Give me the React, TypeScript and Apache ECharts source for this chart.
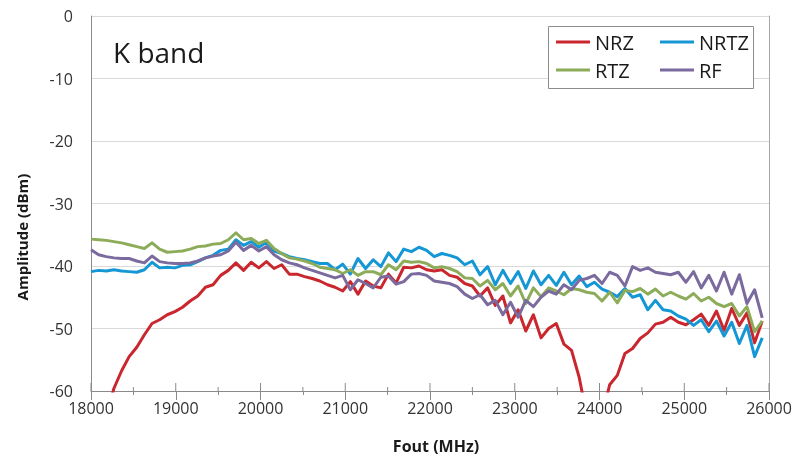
import React, { useEffect, useRef } from "react";
import * as echarts from "echarts";

// Frequency grid (MHz): first sample and spacing
const FREQ_START = 18000;
const FREQ_STEP = 90;

const X_TICKS = { min: 18000, max: 26000, interval: 1000 };
const Y_TICKS = { min: -60, max: 0, interval: 10 };

const SERIES_NAMES = ["NRZ", "NRTZ", "RTZ", "RF"];

// NRZ (dBm)
const nrz: (number | null)[] = [
  null, null, -64, -59.6, -56.8, -54.5, -53.0, -51.0, -49.2, -48.6,
  -47.8, -47.3, -46.6, -45.6, -44.8, -43.4, -43.0, -41.5, -40.7, -39.5,
  -40.7, -39.4, -40.3, -39.3, -40.4, -39.8, -41.3, -41.3, -41.7, -42.0,
  -42.4, -43.0, -43.4, -44.0, -42.5, -44.5, -42.4, -43.2, -43.5, -41.3,
  -42.7, -40.2, -40.3, -40.0, -40.6, -40.8, -40.6, -41.5, -41.8, -42.8,
  -43.2, -44.8, -43.5, -46.3, -44.8, -49.1, -47.0, -50.4, -47.8, -51.5,
  -50.0, -49.2, -52.5, -53.5, -57.8, -64, -70, -64, -59.0, -57.5,
  -54.0, -53.2, -51.6, -50.7, -49.3, -49.0, -48.2, -49.0, -49.4, -48.6,
  -47.7, -49.5, -47.2, -50.3, -46.8, -49.5, -47.5, -52.3, -48.8,
];

// NRTZ (dBm)
const nrtz: number[] = [
  -40.9, -40.7, -40.8, -40.6, -40.8, -40.9, -41.0, -40.6, -39.4, -40.3,
  -40.2, -40.3, -39.9, -39.8, -39.3, -38.7, -38.3, -37.5, -37.3, -35.8,
  -36.7, -36.1, -37.0, -36.2, -37.6, -38.0, -38.5, -38.8, -39.0, -39.3,
  -39.6, -39.6, -40.6, -39.7, -41.3, -38.8, -40.4, -39.0, -40.1, -37.9,
  -39.3, -37.3, -37.7, -37.0, -37.5, -38.5, -38.0, -38.3, -38.7, -39.8,
  -39.2, -41.4, -40.1, -43.0, -40.7, -42.8, -40.9, -43.6, -40.8, -43.0,
  -41.5, -43.1, -41.0, -43.0, -41.6, -43.3, -42.6, -43.7, -44.2, -44.9,
  -43.6, -45.0, -44.6, -47.0, -45.5, -47.0, -47.2, -48.0, -48.5, -49.5,
  -48.6, -50.5, -48.8, -51.2, -49.0, -52.4, -49.5, -54.5, -51.5,
];

// RTZ (dBm)
const rtz: number[] = [
  -35.7, -35.8, -35.9, -36.1, -36.3, -36.6, -36.9, -37.2, -36.3, -37.3,
  -37.8, -37.7, -37.6, -37.3, -36.9, -36.8, -36.5, -36.4, -35.8, -34.7,
  -35.8, -35.6, -36.4, -35.9, -37.2, -38.0, -38.7, -38.9, -39.2, -39.6,
  -40.2, -40.4, -40.6, -41.2, -40.6, -41.5, -40.9, -40.9, -41.4, -39.8,
  -40.6, -39.2, -39.4, -39.3, -39.6, -40.3, -40.1, -40.4, -40.9, -41.9,
  -42.0, -43.2, -42.3, -43.8, -42.8, -44.8, -43.2, -46.0, -43.5, -44.9,
  -43.5, -44.0, -44.6, -43.6, -43.8, -44.2, -44.4, -45.6, -44.2, -45.9,
  -43.9, -44.1, -43.6, -44.5, -43.7, -44.8, -44.2, -44.8, -45.3, -44.4,
  -45.6, -45.0, -46.0, -46.5, -46.0, -48.0, -46.5, -50.5, -48.8,
];

// RF (dBm)
const rf: number[] = [
  -37.4, -38.2, -38.5, -38.7, -38.8, -38.8, -39.2, -39.5, -38.4, -39.3,
  -39.5, -39.6, -39.6, -39.5, -39.2, -38.7, -38.4, -38.2, -37.6, -36.2,
  -37.5, -36.7, -37.6, -36.9, -38.2, -39.0, -39.5, -39.8, -40.3, -40.7,
  -41.1, -41.5, -41.9, -41.5, -43.8, -42.2, -42.8, -43.5, -41.8, -41.6,
  -42.9, -42.5, -41.3, -41.2, -41.5, -42.4, -42.6, -42.8, -43.3, -44.5,
  -45.2, -44.6, -46.2, -45.5, -47.8, -45.8, -48.2, -45.5, -46.5, -45.0,
  -44.0, -44.5, -43.0, -43.8, -42.3, -42.0, -41.5, -42.8, -41.0, -41.5,
  -43.2, -40.1, -40.7, -40.3, -41.0, -41.2, -41.4, -41.0, -42.6, -40.9,
  -43.5, -41.5, -44.0, -41.0, -44.5, -41.4, -46.0, -43.8, -48.3,
];

const COLORS = ["#c9262d", "#1497d4", "#8dac5a", "#7b6a9e"];
const FONT = "'Open Sans', 'Noto Sans', sans-serif";
const AXIS_GRAY = "#8a8a8a";

function toPairs(values: (number | null)[]) {
  return values.map((v, i) => [FREQ_START + i * FREQ_STEP, v]);
}

// positions of the major and minor x ticks (taken from the axis settings)
const tickPositions: number[][] = [];
for (let v = X_TICKS.min; v <= X_TICKS.max; v += X_TICKS.interval / 2) {
  tickPositions.push([v, (v - X_TICKS.min) % X_TICKS.interval === 0 ? 1 : 0]);
}

export default function App() {
  const ref = useRef<HTMLDivElement>(null);

  useEffect(() => {
    const chart = echarts.init(ref.current!, null, { renderer: "svg" });
    const seriesValues = [nrz, nrtz, rtz, rf];
    const legendBase = {
      orient: "vertical" as const,
      top: 31,
      padding: 0,
      itemWidth: 34,
      itemHeight: 3,
      icon: "rect",
      itemGap: 6,
      selectedMode: false,
      z: 10,
      textStyle: { fontSize: 20, fontFamily: FONT, color: "#1a1a1a", lineHeight: 22 },
    };
    const lineSeries = SERIES_NAMES.map((name, k) => ({
      name,
      type: "line",
      data: toPairs(seriesValues[k]),
      showSymbol: false,
      symbol: "none",
      clip: true,
      connectNulls: false,
      z: 3,
      lineStyle: { width: 3, color: COLORS[k], join: "round" },
      itemStyle: { color: COLORS[k] },
    }));
    const innerTicks = {
      name: "innerTicks",
      type: "custom",
      silent: true,
      z: 2,
      data: tickPositions,
      renderItem: (params: any, api: any) => {
        const p = api.coord([api.value(0), Y_TICKS.min]);
        const len = api.value(1) === 1 ? 8 : 4;
        return {
          type: "line",
          shape: { x1: p[0], y1: p[1], x2: p[0], y2: p[1] - len },
          style: { stroke: AXIS_GRAY, lineWidth: 1 },
        };
      },
    };
    chart.setOption({
      animation: false,
      color: COLORS,
      grid: { left: 91, right: 29, top: 16, bottom: 69, containLabel: false },
      xAxis: {
        type: "value",
        min: X_TICKS.min,
        max: X_TICKS.max,
        interval: X_TICKS.interval,
        position: "bottom",
        axisLine: { show: true, onZero: false, lineStyle: { color: AXIS_GRAY, width: 1 } },
        axisTick: { show: true, inside: false, length: 9, lineStyle: { color: AXIS_GRAY } },
        minorTick: { show: true, splitNumber: 2, length: 4, lineStyle: { color: AXIS_GRAY } },
        axisLabel: {
          color: "#333",
          fontSize: 16,
          fontFamily: FONT,
          margin: 9,
          formatter: (v: number) => String(v),
        },
        splitLine: { show: false },
      },
      yAxis: [
        {
          type: "value",
          min: Y_TICKS.min,
          max: Y_TICKS.max,
          interval: Y_TICKS.interval,
          axisLine: { show: true, onZero: false, lineStyle: { color: AXIS_GRAY } },
          axisTick: { show: false },
          axisLabel: { color: "#333", fontSize: 16, fontFamily: FONT, margin: 18 },
          splitLine: { show: true, lineStyle: { color: "#d9d9d9", width: 1 } },
        },
        {
          type: "value",
          min: Y_TICKS.min,
          max: Y_TICKS.max,
          interval: Y_TICKS.interval,
          position: "right",
          axisLine: { show: true, onZero: false, lineStyle: { color: "#a6a6a6" } },
          axisTick: { show: false },
          axisLabel: { show: false },
          splitLine: { show: false },
        },
      ],
      legend: [
        { ...legendBase, left: 556, data: ["NRZ", "RTZ"] },
        { ...legendBase, left: 660, data: ["NRTZ", "RF"] },
      ],
      graphic: [
        {
          type: "rect",
          z: 5,
          shape: { x: 548.5, y: 26.5, width: 205, height: 62 },
          style: { fill: "#fff", stroke: "#8c8c8c", lineWidth: 1 },
        },
        {
          type: "text",
          z: 5,
          x: 113,
          y: 52,
          style: { text: "K band", fontSize: 28, fontFamily: FONT, fill: "#1a1a1a", textVerticalAlign: "middle" },
        },
        {
          type: "text",
          z: 5,
          x: 22,
          y: 237,
          rotation: Math.PI / 2,
          style: {
            text: "Amplitude (dBm)",
            fontSize: 15,
            fontWeight: "bold",
            fontFamily: FONT,
            fill: "#1a1a1a",
            textAlign: "center",
            textVerticalAlign: "middle",
          },
        },
        {
          type: "text",
          z: 5,
          x: 436,
          y: 446,
          style: {
            text: "Fout (MHz)",
            fontSize: 16,
            fontWeight: "bold",
            fontFamily: FONT,
            fill: "#1a1a1a",
            textAlign: "center",
            textVerticalAlign: "middle",
          },
        },
      ],
      series: [innerTicks, ...lineSeries],
    });
    return () => chart.dispose();
  }, []);

  return <div ref={ref} style={{ position: "fixed", left: 0, top: 0, width: 798, height: 460 }} />;
}
